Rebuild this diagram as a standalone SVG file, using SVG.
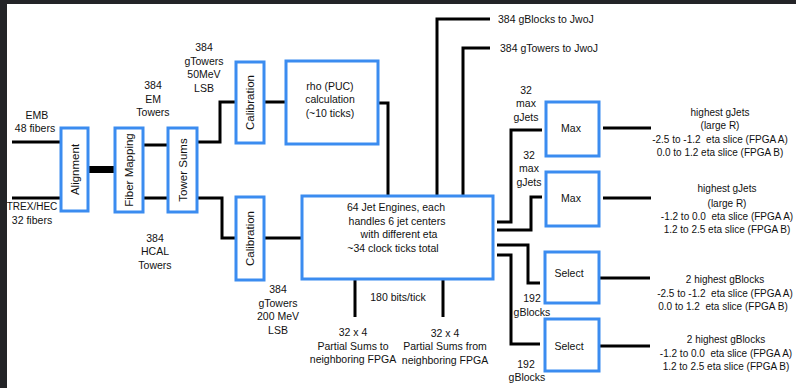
<svg xmlns="http://www.w3.org/2000/svg" width="796" height="388" viewBox="0 0 796 388">
<style>
.box{fill:#fff;stroke:#3b8cf0;stroke-width:3}
.ln{fill:none;stroke:#000;stroke-width:3}
text{font-family:"Liberation Sans",Arial,sans-serif;font-size:10.5px;fill:#111;text-anchor:middle}
.r{font-size:11.5px}
.s{text-anchor:start}
.t{font-size:10px}
</style>
<rect x="0" y="0" width="796" height="388" fill="#fff"/>
<rect x="0" y="0" width="7" height="388" fill="#232427"/>
<rect x="0" y="0" width="796" height="4" fill="#232427"/>
<g id="connectors">
<path class="ln" d="M12,142H61M12,198H61"/>
<rect x="88" y="166" width="27" height="7" fill="#000"/>
<path class="ln" d="M143,145H168M143,198H168"/>
<path class="ln" d="M197,142H220V102H236M264,102H286"/>
<path class="ln" d="M197,198H222V238H236M264,238H302"/>
<path class="ln" d="M378,103H388V196"/>
<path class="ln" d="M437,196V19H490M463,196V48H490"/>
<path class="ln" d="M355,279V317M443,279V317"/>
<path class="ln" d="M497,222H511V130H542"/>
<path class="ln" d="M497,230H531V197H542"/>
<path class="ln" d="M497,245H528V283H540"/>
<path class="ln" d="M497,255H511V344H540"/>
<path class="ln" d="M603,128H651M603,198H651M600,278H650M600,346H650"/>
</g>
<g id="alignment"><rect class="box" x="61" y="128" width="27" height="83"/><text class="r" transform="translate(78.5,169.5) rotate(-90)">Alignment</text></g>
<g id="fiber-mapping"><rect class="box" x="115" y="128" width="28" height="84"/><text class="r" transform="translate(133,170) rotate(-90)">Fiber Mapping</text></g>
<g id="tower-sums"><rect class="box" x="168" y="128" width="29" height="84"/><text class="r" transform="translate(186.5,170) rotate(-90)">Tower Sums</text></g>
<g id="calibration-top"><rect class="box" x="236" y="62" width="28" height="81"/><text class="r" transform="translate(254,102.5) rotate(-90)">Calibration</text></g>
<g id="calibration-bottom"><rect class="box" x="236" y="197" width="28" height="83"/><text class="r" transform="translate(254,238.5) rotate(-90)">Calibration</text></g>
<g id="rho"><rect class="box" x="286" y="61" width="92" height="83"/>
<text x="330" y="90">rho (PUC)</text><text x="330" y="103">calculation</text><text x="330" y="117">(~10 ticks)</text></g>
<g id="jet-engines"><rect class="box" x="302" y="196" width="191" height="83"/>
<text x="396" y="211">64 Jet Engines, each</text><text x="397" y="225">handles 6 jet centers</text><text x="399" y="238">with different eta</text><text x="393" y="252">~34 clock ticks total</text></g>
<g id="max1"><rect class="box" x="546" y="102" width="53" height="54"/><text x="571" y="132">Max</text></g>
<g id="max2"><rect class="box" x="546" y="172" width="53" height="54"/><text x="571" y="202">Max</text></g>
<g id="select1"><rect class="box" x="545" y="252" width="54" height="51"/><text x="569" y="277">Select</text></g>
<g id="select2"><rect class="box" x="545" y="319" width="54" height="52"/><text x="569" y="350">Select</text></g>
<g id="labels">
<text x="37" y="119">EMB</text><text x="35" y="132">48 fibers</text>
<text x="32" y="210" style="font-size:10px">TREX/HEC</text><text x="32" y="224">32 fibers</text>
<text x="153" y="89">384</text><text x="153" y="103">EM</text><text x="153" y="116">Towers</text>
<text x="204" y="51">384</text><text x="204" y="65">gTowers</text><text x="204" y="78">50MeV</text><text x="204" y="92">LSB</text>
<text x="155" y="242">384</text><text x="155" y="255">HCAL</text><text x="155" y="269">Towers</text>
<text x="278" y="293">384</text><text x="278" y="307">gTowers</text><text x="278" y="320">200 MeV</text><text x="278" y="334">LSB</text>
<text class="s" x="498" y="23">384 gBlocks to JwoJ</text>
<text class="s" x="500" y="52">384 gTowers to JwoJ</text>
<text x="398" y="301">180 bits/tick</text>
<text x="353" y="336">32 x 4</text><text x="353" y="350">Partial Sums to</text><text x="353" y="363">neighboring FPGA</text>
<text x="445" y="337">32 x 4</text><text x="445" y="350">Partial Sums from</text><text x="445" y="364">neighboring FPGA</text>
<text x="526" y="94">32</text><text x="526" y="107">max</text><text x="526" y="121">gJets</text>
<text x="529" y="159">32</text><text x="529" y="172">max</text><text x="529" y="186">gJets</text>
<text x="532" y="302">192</text><text x="532" y="316">gBlocks</text>
<text x="526" y="368">192</text><text x="527" y="381">gBlocks</text>
<text class="t" x="720" y="116">highest gJets</text><text class="t" x="720" y="129">(large R)</text><text class="t" x="720" y="143" xml:space="preserve">-2.5 to -1.2  eta slice (FPGA A)</text><text class="t" x="720" y="156">0.0 to 1.2 eta slice (FPGA B)</text>
<text class="t" x="727" y="192">highest gJets</text><text class="t" x="727" y="207">(large R)</text><text class="t" x="727" y="220" xml:space="preserve">-1.2 to 0.0  eta slice (FPGA A)</text><text class="t" x="727" y="233">1.2 to 2.5 eta slice (FPGA B)</text>
<text class="t" x="725" y="283">2 highest gBlocks</text><text class="t" x="725" y="297" xml:space="preserve">-2.5 to -1.2  eta slice (FPGA A)</text><text class="t" x="723" y="310" xml:space="preserve">0.0 to 1.2  eta slice (FPGA B)</text>
<text class="t" x="726" y="343">2 highest gBlocks</text><text class="t" x="726" y="357" xml:space="preserve">-1.2 to 0.0  eta slice (FPGA A)</text><text class="t" x="726" y="370">1.2 to 2.5 eta slice (FPGA B)</text>
</g>
</svg>
